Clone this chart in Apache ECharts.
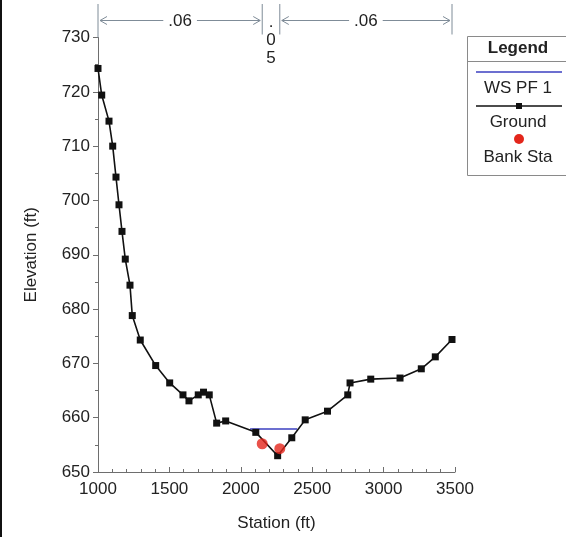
<!DOCTYPE html>
<html>
<head>
<meta charset="utf-8">
<script src="https://cdn.jsdelivr.net/npm/echarts@6/dist/echarts.min.js"></script>
<style>
  html, body { margin: 0; padding: 0; background: #fff; }
  #chart { width: 566px; height: 537px; }
</style>
</head>
<body>
<div id="chart"></div>
<script>
// Cross-section ground profile (station vs elevation)
const stations = [1000, 1026, 1077, 1103, 1126, 1147, 1168, 1191, 1224, 1240, 1296, 1404,
  1502, 1595, 1637, 1702, 1739, 1779, 1831, 1894, 2105, 2258, 2357, 2451, 2607, 2749,
  2765, 2910, 3115, 3264, 3362, 3479];
const groundElev = [724.3, 719.4, 714.6, 710.0, 704.3, 699.2, 694.3, 689.2, 684.4, 678.8,
  674.3, 669.6, 666.4, 664.2, 663.1, 664.2, 664.7, 664.2, 659.0, 659.4, 657.3, 653.0,
  656.3, 659.6, 661.2, 664.2, 666.4, 667.1, 667.3, 669.0, 671.2, 674.4];

// Bank stations
const bankStations = [2150, 2273];
const bankElev = [655.2, 654.3];

// Water surface, profile PF 1
const wsStations = [2065, 2395];
const wsElev = [657.9, 657.9];

// Manning's n regions: boundaries and values
const nBounds = [1000, 2150, 2273, 3479];
const nValues = ['.06', '.05', '.06'];

// Axis settings
const xTicks = { min: 1000, max: 3500, interval: 500 };
const yTicks = { min: 650, max: 730, interval: 10 };

const FONT = 'Liberation Sans, Arial, sans-serif';
const FS = 17;
const TEXT = '#222';
const AXIS = '#6e6e6e';
const DIM = '#7f8c98';

const chart = echarts.init(document.getElementById('chart'), null, { renderer: 'canvas' });

function nRegionRender(params, api) {
  const children = [];
  const topY = api.coord([nBounds[0], yTicks.max])[1];
  const arrowY = topY - 17;
  const lineTop = 4;
  const px = nBounds.map(s => api.coord([s, yTicks.max])[0]);
  // boundary ticks
  px.forEach((x, i) => {
    const bottom = i === 0 ? topY : topY - 3;
    children.push({
      type: 'line',
      shape: { x1: x, y1: lineTop, x2: x, y2: bottom },
      style: { stroke: DIM, lineWidth: 1 }
    });
  });
  for (let i = 0; i < nValues.length; i++) {
    const a = px[i], b = px[i + 1];
    const cx = (a + b) / 2;
    if (b - a > 40) {
      children.push({
        type: 'line',
        shape: { x1: a + 2, y1: arrowY, x2: b - 2, y2: arrowY },
        style: { stroke: DIM, lineWidth: 1 }
      });
      children.push({
        type: 'polyline',
        shape: { points: [[a + 9, arrowY - 4], [a + 2, arrowY], [a + 9, arrowY + 4]] },
        style: { stroke: DIM, lineWidth: 1, fill: null }
      });
      children.push({
        type: 'polyline',
        shape: { points: [[b - 9, arrowY - 4], [b - 2, arrowY], [b - 9, arrowY + 4]] },
        style: { stroke: DIM, lineWidth: 1, fill: null }
      });
      children.push({
        type: 'text',
        x: cx, y: arrowY + 1,
        style: {
          text: nValues[i], fill: TEXT, font: FS + 'px ' + FONT,
          align: 'center', verticalAlign: 'middle',
          backgroundColor: '#fff', padding: [0, 5]
        }
      });
    } else {
      // narrow region: value written vertically
      const chars = nValues[i].split('');
      chars.forEach((c, k) => {
        children.push({
          type: 'text',
          x: cx, y: arrowY + 2 + k * 18,
          style: {
            text: c, fill: TEXT, font: FS + 'px ' + FONT,
            align: 'center', verticalAlign: 'middle'
          }
        });
      });
    }
  }
  return { type: 'group', children };
}

const option = {
  animation: false,
  backgroundColor: '#fff',
  grid: { left: 98, right: 111, top: 37.5, bottom: 64.5 },
  xAxis: {
    type: 'value',
    min: xTicks.min, max: xTicks.max, interval: xTicks.interval,
    name: 'Station (ft)', nameLocation: 'middle', nameGap: 43,
    nameTextStyle: { color: TEXT, fontFamily: FONT, fontSize: FS },
    axisLine: { show: true, onZero: false, lineStyle: { color: AXIS, width: 1 } },
    axisTick: { show: true, inside: true, length: 5, lineStyle: { color: AXIS } },
    minorTick: { show: true, splitNumber: 5, length: 3, lineStyle: { color: AXIS } },
    axisLabel: { color: TEXT, fontFamily: FONT, fontSize: FS, margin: 9, formatter: v => String(v) },
    splitLine: { show: false }
  },
  yAxis: {
    type: 'value',
    min: yTicks.min, max: yTicks.max, interval: yTicks.interval,
    name: 'Elevation (ft)', nameLocation: 'middle', nameGap: 58,
    nameTextStyle: { color: TEXT, fontFamily: FONT, fontSize: FS },
    axisLine: { show: true, onZero: false, lineStyle: { color: AXIS, width: 1 } },
    axisTick: { show: true, inside: false, length: 5, lineStyle: { color: AXIS } },
    minorTick: { show: true, splitNumber: 2, length: 3, lineStyle: { color: AXIS } },
    axisLabel: { color: TEXT, fontFamily: FONT, fontSize: FS, margin: 8, formatter: v => String(v) },
    splitLine: { show: false }
  },
  series: [
    {
      name: 'WS PF 1',
      type: 'line',
      data: wsStations.map((s, i) => [s, wsElev[i]]),
      symbol: 'none',
      lineStyle: { color: '#3b3fc0', width: 1.5 },
      z: 2
    },
    {
      name: 'Ground',
      type: 'line',
      data: stations.map((s, i) => [s, groundElev[i]]),
      symbol: 'rect',
      symbolSize: 7,
      itemStyle: { color: '#111' },
      lineStyle: { color: '#111', width: 1.6 },
      z: 3
    },
    {
      name: 'Bank Sta',
      type: 'scatter',
      data: bankStations.map((s, i) => [s, bankElev[i]]),
      symbol: 'circle',
      symbolSize: 11,
      itemStyle: { color: '#e3261b' },
      z: 4
    },
    {
      name: 'n regions',
      type: 'custom',
      clip: false,
      silent: true,
      data: [[nBounds[0], yTicks.max]],
      renderItem: nRegionRender,
      z: 5
    }
  ],
  graphic: [
    { type: 'rect', left: 0, top: 0, shape: { width: 2, height: 537 }, style: { fill: '#111' } },
    {
      type: 'group', left: 465, top: 36,
      children: [
        { type: 'rect', shape: { x: 0.5, y: 0.5, width: 100, height: 139 }, style: { fill: '#fff', stroke: '#8a8a8a', lineWidth: 1 } },
        { type: 'text', x: 51, y: 12, style: { text: 'Legend', font: 'bold ' + FS + 'px ' + FONT, fill: TEXT, align: 'center', verticalAlign: 'middle' } },
        { type: 'line', shape: { x1: 0.5, y1: 25.5, x2: 100.5, y2: 25.5 }, style: { stroke: '#8a8a8a', lineWidth: 1 } },
        { type: 'line', shape: { x1: 9, y1: 36, x2: 95, y2: 36 }, style: { stroke: '#3b3fc0', lineWidth: 1.5 } },
        { type: 'text', x: 51, y: 52, style: { text: 'WS PF 1', font: FS + 'px ' + FONT, fill: TEXT, align: 'center', verticalAlign: 'middle' } },
        { type: 'line', shape: { x1: 9, y1: 70, x2: 95, y2: 70 }, style: { stroke: '#111', lineWidth: 1.5 } },
        { type: 'rect', shape: { x: 49, y: 67, width: 6, height: 6 }, style: { fill: '#111' } },
        { type: 'text', x: 51, y: 86, style: { text: 'Ground', font: FS + 'px ' + FONT, fill: TEXT, align: 'center', verticalAlign: 'middle' } },
        { type: 'circle', shape: { cx: 52, cy: 103, r: 5 }, style: { fill: '#e3261b' } },
        { type: 'text', x: 51, y: 121, style: { text: 'Bank Sta', font: FS + 'px ' + FONT, fill: TEXT, align: 'center', verticalAlign: 'middle' } }
      ]
    }
  ]
};

chart.setOption(option);
</script>
</body>
</html>
